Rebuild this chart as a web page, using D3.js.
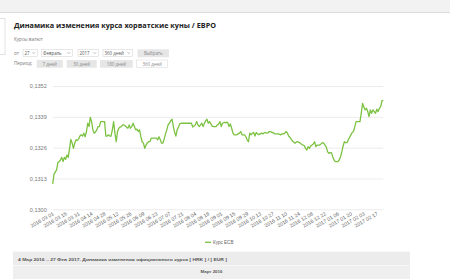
<!DOCTYPE html>
<html>
<head>
<meta charset="utf-8">
<script src="https://cdn.jsdelivr.net/npm/d3@7"></script>
<style>
  html, body { margin: 0; padding: 0; background: #fff; }
  svg { display: block; }
  .ui { font-family: "Open Sans", "Liberation Sans", sans-serif; }
  .ax { font-family: "Liberation Sans", Arial, sans-serif; }
</style>
</head>
<body>
<div id="chart"></div>
<script>
// ECB rate HRK/EUR, one value per ECB business day
const rates = [
  0.13107, 0.13148, 0.13157, 0.13166, 0.13197, 0.13201, 0.13208, 0.13219, 0.13201, 0.13219,
  0.13211, 0.13229, 0.13219, 0.13257, 0.13295, 0.13279, 0.13257, 0.13279, 0.13293, 0.13290,
  0.13297, 0.13309, 0.13314, 0.13309, 0.13321, 0.13306, 0.13326, 0.13363, 0.13349, 0.13388,
  0.13370, 0.13335, 0.13321, 0.13326, 0.13335, 0.13349, 0.13349, 0.13370, 0.13370, 0.13370,
  0.13370, 0.13309, 0.13309, 0.13314, 0.13309, 0.13309, 0.13335, 0.13370, 0.13321, 0.13285,
  0.13328, 0.13342, 0.13347, 0.13349, 0.13356, 0.13356, 0.13351, 0.13346, 0.13342, 0.13356,
  0.13342, 0.13349, 0.13363, 0.13349, 0.13335, 0.13338, 0.13328, 0.13335, 0.13306, 0.13285,
  0.13279, 0.13257, 0.13271, 0.13280, 0.13285, 0.13285, 0.13300, 0.13300, 0.13300, 0.13300,
  0.13300, 0.13293, 0.13306, 0.13293, 0.13279, 0.13279, 0.13297, 0.13318, 0.13335, 0.13356,
  0.13363, 0.13373, 0.13380, 0.13351, 0.13326, 0.13309, 0.13335, 0.13347, 0.13360, 0.13363,
  0.13363, 0.13363, 0.13363, 0.13363, 0.13363, 0.13363, 0.13363, 0.13363, 0.13347, 0.13351,
  0.13356, 0.13370, 0.13356, 0.13349, 0.13356, 0.13363, 0.13349, 0.13363, 0.13373, 0.13380,
  0.13363, 0.13370, 0.13360, 0.13351, 0.13349, 0.13349, 0.13349, 0.13356, 0.13360, 0.13370,
  0.13349, 0.13363, 0.13366, 0.13366, 0.13366, 0.13366, 0.13349, 0.13360, 0.13343, 0.13321,
  0.13314, 0.13314, 0.13314, 0.13318, 0.13321, 0.13328, 0.13314, 0.13314, 0.13314, 0.13306,
  0.13293, 0.13285, 0.13321, 0.13314, 0.13321, 0.13324, 0.13309, 0.13324, 0.13318, 0.13314,
  0.13318, 0.13321, 0.13318, 0.13322, 0.13324, 0.13321, 0.13322, 0.13328, 0.13328, 0.13324,
  0.13324, 0.13318, 0.13318, 0.13318, 0.13318, 0.13316, 0.13314, 0.13318, 0.13318, 0.13321,
  0.13328, 0.13322, 0.13309, 0.13303, 0.13295, 0.13288, 0.13282, 0.13279, 0.13284, 0.13285,
  0.13282, 0.13279, 0.13274, 0.13271, 0.13269, 0.13257, 0.13250, 0.13264, 0.13257, 0.13267,
  0.13271, 0.13276, 0.13285, 0.13264, 0.13271, 0.13271, 0.13271, 0.13276, 0.13281, 0.13279,
  0.13271, 0.13263, 0.13243, 0.13236, 0.13239, 0.13239, 0.13222, 0.13208, 0.13201, 0.13201,
  0.13201, 0.13208, 0.13222, 0.13242, 0.13267, 0.13285, 0.13281, 0.13281, 0.13293, 0.13304,
  0.13314, 0.13324, 0.13328, 0.13349, 0.13370, 0.13370, 0.13370, 0.13370, 0.13406, 0.13447,
  0.13431, 0.13419, 0.13426, 0.13412, 0.13391, 0.13419, 0.13405, 0.13419, 0.13412, 0.13405,
  0.13422, 0.13412, 0.13426, 0.13433, 0.13458, 0.13458
];

// one label every 10 business days
const dateLabels = [
  "2016 03 01", "2016 03 15", "2016 03 31", "2016 04 14", "2016 04 28", "2016 05 12",
  "2016 05 26", "2016 06 09", "2016 06 23", "2016 07 07", "2016 07 21", "2016 08 04",
  "2016 08 18", "2016 09 01", "2016 09 15", "2016 09 29", "2016 10 13", "2016 10 27",
  "2016 11 10", "2016 11 24", "2016 12 08", "2016 12 22", "2017 01 06", "2017 01 20",
  "2017 02 03", "2017 02 17"
];
const labelStep = 10;

const yTicks = [0.1300, 0.1313, 0.1326, 0.1339, 0.1352];

const title = "Динамика изменения курса хорватские куны / ЕВРО";
const seriesName = "Курс ECB";

const width = 450, height = 279;

const svg = d3.select("#chart").append("svg")
  .attr("width", width)
  .attr("height", height);

// --- page chrome ---
svg.append("rect").attr("x", 0).attr("y", 0).attr("width", width).attr("height", 12).attr("fill", "#f2f2f2");
svg.append("line").attr("x1", 0).attr("x2", width).attr("y1", 12.5).attr("y2", 12.5).attr("stroke", "#dcdcdc");
svg.append("rect").attr("x", -1).attr("y", 18.5).attr("width", 6).attr("height", 36)
  .attr("fill", "#fff").attr("stroke", "#e2e2e2");

svg.append("text").attr("class", "ui")
  .attr("x", 14).attr("y", 28.3)
  .attr("font-size", 7.6).attr("font-weight", "bold").attr("fill", "#222")
  .attr("textLength", 202).attr("lengthAdjust", "spacingAndGlyphs")
  .text(title);

svg.append("text").attr("class", "ui")
  .attr("x", 14).attr("y", 41).attr("font-size", 4.6).attr("fill", "#777")
  .text("Курсы валют");

// select row
svg.append("text").attr("class", "ui").attr("x", 14).attr("y", 55)
  .attr("font-size", 4.6).attr("fill", "#777").text("от");

const selects = [
  { x: 23, w: 14.5, t: "27" },
  { x: 41.5, w: 31, t: "Февраль" },
  { x: 78, w: 20.5, t: "2017" },
  { x: 103, w: 29.5, t: "360 дней" }
];
selects.forEach(s => {
  const g = svg.append("g").attr("class", "ui");
  g.append("rect").attr("x", s.x).attr("y", 49.5).attr("width", s.w).attr("height", 7)
    .attr("fill", "#fff").attr("stroke", "#cfcfcf").attr("stroke-width", 0.5);
  g.append("text").attr("x", s.x + 1.5).attr("y", 55).attr("font-size", 4.4).attr("fill", "#555").text(s.t);
  g.append("path")
    .attr("d", `M${s.x + s.w - 5},52.3 l1.3,1.3 l1.3,-1.3`)
    .attr("fill", "none").attr("stroke", "#777").attr("stroke-width", 0.5);
});
svg.append("rect").attr("x", 137.5).attr("y", 49.3).attr("width", 31.5).attr("height", 8)
  .attr("fill", "#e6e6e6");
svg.append("text").attr("class", "ui").attr("x", 153.2).attr("y", 55.2).attr("text-anchor", "middle")
  .attr("font-size", 4.4).attr("fill", "#888").text("Выбрать");

// period row
svg.append("text").attr("class", "ui").attr("x", 14).attr("y", 65.3)
  .attr("font-size", 4.6).attr("fill", "#777").text("Период:");
const periods = [
  { x: 36.7, w: 26, t: "7 дней", on: false },
  { x: 66.7, w: 30, t: "30 дней", on: false },
  { x: 100, w: 32.7, t: "180 дней", on: false },
  { x: 136.7, w: 31, t: "360 дней", on: true }
];
periods.forEach(p => {
  svg.append("rect").attr("x", p.x).attr("y", 60).attr("width", p.w).attr("height", 7.7)
    .attr("fill", p.on ? "#fff" : "#e6e6e6")
    .attr("stroke", p.on ? "#d5d5d5" : "none").attr("stroke-width", 0.5);
  svg.append("text").attr("class", "ui").attr("x", p.x + p.w / 2).attr("y", 65.6)
    .attr("text-anchor", "middle").attr("font-size", 4.4).attr("fill", "#888").text(p.t);
});

// --- chart ---
const plot = { left: 52.7, right: 383.3, top: 86, bottom: 209.3 };

const x = d3.scaleLinear()
  .domain([0, rates.length - 1])
  .range([plot.left, plot.right]);

const y = d3.scaleLinear()
  .domain([yTicks[0], yTicks[yTicks.length - 1]])
  .range([plot.bottom, plot.top]);

const fmt = v => d3.format(".4f")(v).replace(".", ",");

const yAxis = svg.append("g").attr("class", "ax")
  .attr("transform", `translate(${plot.left},0)`)
  .call(d3.axisLeft(y).tickValues(yTicks).tickFormat(fmt)
    .tickSize(-(plot.right - plot.left)).tickPadding(6));
yAxis.select(".domain").remove();
yAxis.selectAll(".tick line").attr("stroke", "#e6e6e6").attr("stroke-width", 0.8);
yAxis.selectAll(".tick text").attr("font-size", 5.5).attr("fill", "#777");

const xTickIdx = dateLabels.map((d, i) => i * labelStep);
const xAxis = svg.append("g").attr("class", "ax")
  .attr("transform", `translate(0,${plot.bottom})`)
  .call(d3.axisBottom(x).tickValues(xTickIdx)
    .tickFormat((d, i) => dateLabels[i]).tickSize(0));
xAxis.select(".domain").remove();
xAxis.selectAll(".tick text")
  .attr("font-size", 5.2).attr("fill", "#666")
  .attr("text-anchor", "end")
  .attr("dy", 0)
  .attr("y", 0)
  .attr("transform", "translate(1,5.5) rotate(-30)");

const line = d3.line()
  .x((d, i) => x(i))
  .y(d => y(d));

svg.append("path")
  .datum(rates)
  .attr("fill", "none")
  .attr("stroke", "#7cc242")
  .attr("stroke-width", 1.3)
  .attr("stroke-linejoin", "round")
  .attr("d", line);

// legend
svg.append("line").attr("x1", 205).attr("x2", 211).attr("y1", 242.3).attr("y2", 242.3)
  .attr("stroke", "#7cc242").attr("stroke-width", 1.3);
svg.append("text").attr("class", "ax").attr("x", 213).attr("y", 244)
  .attr("font-size", 4.6).attr("fill", "#666").text(seriesName);

// --- table below ---
svg.append("rect").attr("x", 13).attr("y", 251.7).attr("width", 397).attr("height", 13.3).attr("fill", "#ececec");
svg.append("rect").attr("x", 13).attr("y", 265.5).attr("width", 397).attr("height", 14).attr("fill", "#efefef");
svg.append("text").attr("class", "ax").attr("x", 18).attr("y", 260.5)
  .attr("font-size", 4.2).attr("font-weight", "bold").attr("fill", "#555")
  .attr("textLength", 209).attr("lengthAdjust", "spacingAndGlyphs")
  .text("4 Мар 2016 .. 27 Фев 2017. Динамика изменения официального курса [ HRK ] / [ EUR ]");
svg.append("text").attr("class", "ax").attr("x", 211.5).attr("y", 272.5).attr("text-anchor", "middle")
  .attr("font-size", 4.4).attr("font-weight", "bold").attr("fill", "#555")
  .text("Март 2016");
</script>
</body>
</html>
